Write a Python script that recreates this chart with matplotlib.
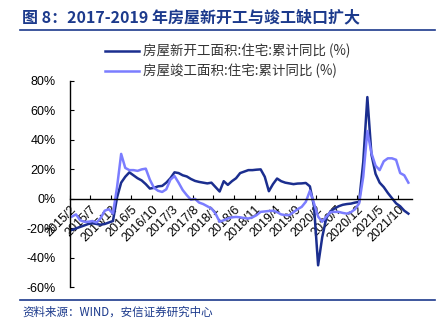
import numpy as np
import pandas as pd
import matplotlib.pyplot as plt
from matplotlib.lines import Line2D

plt.rcParams['font.family'] = ['Liberation Sans', 'Noto Sans CJK SC', 'DejaVu Sans']

# monthly, 2015/2 .. 2021/12
months = pd.date_range('2015-02-01', '2021-12-01', freq='MS')
month_labels = [f'{d.year}/{d.month}' for d in months]

starts = [-21, -20, -19, -18, -17, -16.5, -17, -17.5, -17, -16, -15,
          1, 11, 15, 18, 16, 14, 12.5, 10, 7, 7.5, 8.5, 8.8,
          11, 14, 18, 17.5, 16, 15.2, 13.5, 12.2, 11.5, 11, 10.5, 11,
          8, 5, 12, 9.5, 12, 14, 17.5, 18.5, 19.5, 19.5, 19.8, 20,
          15, 5.2, 10, 13.8, 12, 11, 10.5, 10, 10.4, 10.5, 10.8, 8.5,
          -5, -45, -26, -13, -8.5, -6.5, -5, -4, -3.5, -3.2, -2.5, -2,
          25, 69, 30, 17, 11, 8, 4, 0.5, -3, -5, -8, -10]

completions = [-12, -10.5, -14.5, -15.5, -15.5, -15, -16, -13, -8, -7, -10,
               8, 30.5, 21, 19.5, 19.5, 19, 20, 20.5, 13, 7.5, 5.5, 4.7,
               6.5, 13, 15.5, 11, 6, 2.5, -0.5, 0, -2.5, -3.5, -5, -6.5,
               -10, -15.5, -14.5, -13.3, -12.5, -12.2, -12.5, -13, -13.3, -12.5, -11, -8.8,
               -8.5, -8.2, -8, -9, -10.5, -11, -11, -9, -7, -5.4, -2, 5.5,
               -3, -12, -15.5, -12, -9, -8.8, -8.8, -9.5, -10, -9, -7, -3,
               15, 46, 31, 22.5, 19.5, 25.5, 27.5, 27.5, 26.5, 17.5, 16, 11]

name_starts = '房屋新开工面积:住宅:累计同比 (%)'
name_completions = '房屋竣工面积:住宅:累计同比 (%)'
title = '图 8：2017-2019 年房屋新开工与竣工缺口扩大'
source = '资料来源：WIND，安信证券研究中心'

blue = '#1c3a8c'

fig = plt.figure(figsize=(4.45, 3.3), dpi=100)
ax = fig.add_axes([0.157, 0.129, 0.769, 0.626])

x = np.arange(len(months)) + 0.5
ax.plot(x, starts, color='#1b2e8f', lw=1.8, label=name_starts)
ax.plot(x, completions, color='#7b7dff', lw=1.8, label=name_completions)

ax.set_xlim(0, 83.4)
ax.set_ylim(-60, 80)

for s in ['top', 'right']:
    ax.spines[s].set_visible(False)
ax.spines['bottom'].set_position(('data', 0))
ax.spines['bottom'].set_linewidth(1.0)
ax.spines['left'].set_linewidth(1.0)
ax.tick_params(axis='both', direction='in', length=3, width=0.8, colors='black')
ax.tick_params(axis='x', pad=3)
ax.tick_params(axis='y', pad=10)
ax.set_axisbelow(True)

ax.set_yticks(range(-60, 81, 20))
ax.set_yticklabels([f'{v}%' for v in range(-60, 81, 20)], fontsize=9)
ax.set_xticks(np.arange(0, len(months), 5))
ax.set_xticklabels(month_labels[::5], fontsize=9)
plt.setp(ax.get_xticklabels(), rotation=45, ha='right', va='top',
         rotation_mode='anchor')

ax.legend(loc='upper left', bbox_to_anchor=(105 / 445, 1 - 44 / 330),
          bbox_transform=fig.transFigure, frameon=False,
          handlelength=2.5, handletextpad=0.35, labelspacing=0.4,
          borderpad=0, borderaxespad=0, labelcolor='#333333',
          prop={'family': ['Noto Sans CJK SC', 'DejaVu Sans'], 'size': 9.7})

fig.text(22 / 445, 1 - 17 / 330, title, fontsize=11.5, fontweight='bold',
         color=blue, va='center', family=['Noto Sans CJK SC', 'DejaVu Sans'])
fig.add_artist(Line2D([20 / 445, 435 / 445], [1 - 30 / 330] * 2,
                      color=blue, lw=1.2, transform=fig.transFigure))
fig.add_artist(Line2D([20 / 445, 435 / 445], [1 - 300 / 330] * 2,
                      color=blue, lw=1.2, transform=fig.transFigure))
fig.text(22 / 445, 1 - 312 / 330, source, fontsize=8.3, color=blue,
         va='center', style='italic', family=['Noto Sans CJK SC', 'DejaVu Sans'])

fig.savefig('out.png', dpi=100)
